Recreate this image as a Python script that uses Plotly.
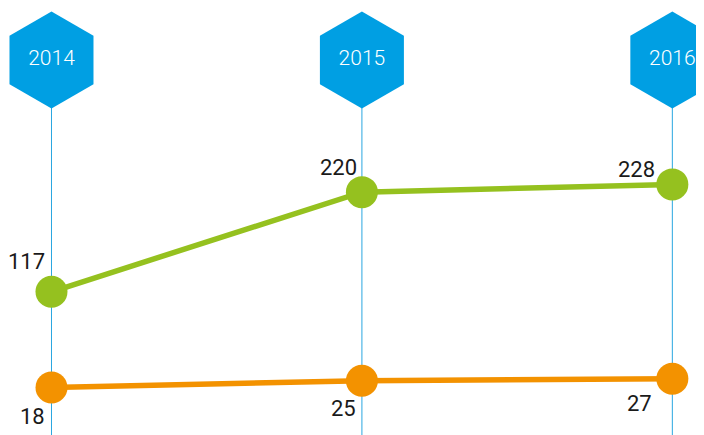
import plotly.graph_objects as go

years = ["2014", "2015", "2016"]
green_values = [117, 220, 228]
orange_values = [18, 25, 27]

xpos = list(range(len(years)))
GREEN = "#95c11f"
ORANGE = "#f39200"
BLUE = "#009fe3"
LINE_BLUE = "#2aa6e0"
FONT = "Roboto, sans-serif"

fig = go.Figure()

# vertical guide lines
for x in xpos:
    fig.add_shape(type="line", xref="x", yref="paper", x0=x, x1=x, y0=0, y1=0.86,
                  line=dict(color=LINE_BLUE, width=1), layer="below")

fig.add_trace(go.Scatter(x=xpos, y=green_values, mode="lines+markers",
                         line=dict(color=GREEN, width=5.5),
                         marker=dict(size=32, color=GREEN), hoverinfo="skip"))
fig.add_trace(go.Scatter(x=xpos, y=orange_values, mode="lines+markers",
                         line=dict(color=ORANGE, width=5.5),
                         marker=dict(size=32, color=ORANGE), hoverinfo="skip"))

# hexagon year headers
fig.add_trace(go.Scatter(x=xpos, y=[0.878] * len(years), yaxis="y2", mode="markers+text",
                         text=years, textposition="middle center",
                         textfont=dict(color="white", size=21, family=FONT, weight=300),
                         marker=dict(symbol="hexagon", size=97, color=BLUE, line=dict(width=0)),
                         hoverinfo="skip"))

green_shift = [(-25, 30), (-23, 25), (-36, 15)]
orange_shift = [(-19, -29), (-18, -28), (-33, -25)]
for x, v, (dx, dy) in zip(xpos, green_values, green_shift):
    fig.add_annotation(x=x, y=v, text=str(v), showarrow=False, xshift=dx, yshift=dy,
                       font=dict(size=22, color="#1a1a1a", family=FONT, weight=400))
for x, v, (dx, dy) in zip(xpos, orange_values, orange_shift):
    fig.add_annotation(x=x, y=v, text=str(v), showarrow=False, xshift=dx, yshift=dy,
                       font=dict(size=22, color="#1a1a1a", family=FONT, weight=400))

fig.update_layout(
    width=696, height=427,
    margin=dict(l=0, r=0, t=0, b=0),
    paper_bgcolor="white", plot_bgcolor="white",
    showlegend=False, hovermode=False,
    xaxis=dict(range=[-0.1401, 2.102], visible=False, fixedrange=True),
    yaxis=dict(range=[-31.1, 410.4], visible=False, fixedrange=True),
    yaxis2=dict(range=[0, 1], overlaying="y", visible=False, fixedrange=True),
)

fig.write_html("out.html")
